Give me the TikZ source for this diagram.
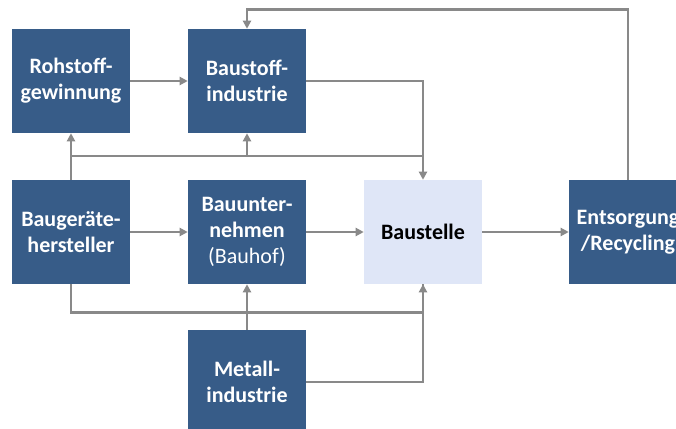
\documentclass[tikz,border=0pt]{standalone}
\usepackage{fontspec}
\setmainfont{Carlito}
\usetikzlibrary{arrows.meta}
\definecolor{boxblue}{HTML}{375C88}
\definecolor{sitefill}{HTML}{DFE6F7}
\definecolor{linegray}{HTML}{898989}

\begin{document}
\begin{tikzpicture}[x=0.75pt,y=-0.75pt,
  unit/.style={fill=boxblue,text=white,font=\fontsize{16.5}{19.5}\selectfont\bfseries,
    align=center,minimum width=88.5pt,minimum height=78pt,inner sep=0pt},
  site/.style={unit,fill=sitefill,text=black},
  flow/.style={draw=linegray,line width=1.9pt,-{Triangle[length=6pt,width=6pt]}},
  link/.style={draw=linegray,line width=1.9pt}]
  \useasboundingbox (0,0) rectangle (676,429);

  \node [unit] (rohstoff) at (71,81) {Rohstoff-\\gewinnung};
  \node [unit] (baustoff) at (247,81) {Baustoff-\\industrie};
  \node [unit] (geraete) at (71,232) {Baugeräte-\\hersteller};
  \node [unit] (unternehmen) at (247,232) {Bauunter-\\nehmen\\{\mdseries (Bauhof)}};
  \node [site] (baustelle) at (423,232) {Baustelle};
  \node [unit] (entsorgung) at (628,232) {Entsorgung\\/Recycling};
  \node [unit] (metall) at (247,382) {Metall-\\industrie};

  \draw [flow] (rohstoff) -- (baustoff);
  \draw [flow] (geraete) -- (unternehmen);
  \draw [flow] (unternehmen) -- (baustelle);
  \draw [flow] (baustelle) -- (entsorgung);

  \draw [flow] (baustoff.east) -| (baustelle.north);
  \draw [flow] (entsorgung.north) -- ++(0,-170) -| (baustoff.north);

  \draw [flow] (geraete) -- (rohstoff);
  \coordinate (upper) at (71,156);
  \draw [link] (upper) -- (upper -| baustelle.north);
  \draw [flow] (upper -| baustoff.south) -- (baustoff.south);

  \draw [flow] (geraete.south) -- ++(0,28) -| (baustelle.south);
  \draw [flow] (metall) -- (unternehmen);
  \draw [link] (metall.east) -| (baustelle.south);
\end{tikzpicture}
\end{document}
